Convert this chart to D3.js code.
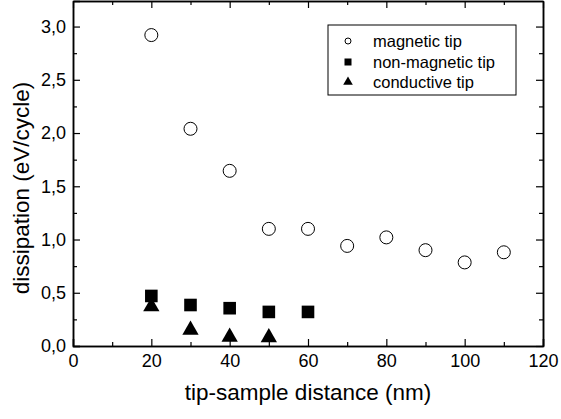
<!DOCTYPE html>
<html>
<head>
<meta charset="utf-8">
<script src="https://cdn.jsdelivr.net/npm/d3@7"></script>
<style>
  body { margin: 0; background: #fff; }
  svg text { font-family: "Liberation Sans", Arial, sans-serif; fill: #000; }
</style>
</head>
<body>
<div id="chart"></div>
<script>
// dados
const distances = [20, 30, 40, 50, 60, 70, 80, 90, 100, 110];
const magneticTip = [2.92, 2.04, 1.645, 1.10, 1.10, 0.94, 1.02, 0.90, 0.785, 0.88];
const nonMagneticDist = [20, 30, 40, 50, 60];
const nonMagneticTip = [0.47, 0.385, 0.355, 0.32, 0.32];
const conductiveDist = [20, 30, 40, 50];
const conductiveTip = [0.37, 0.15, 0.085, 0.08];
const xTicks = [0, 20, 40, 60, 80, 100, 120];
const yTicks = [0, 0.5, 1, 1.5, 2, 2.5, 3];
const legendLabels = ["magnetic tip", "non-magnetic tip", "conductive tip"];

const width = 561, height = 419;
const margin = { top: 1, right: 18, bottom: 73, left: 73 };

const svg = d3.select("#chart").append("svg")
    .attr("width", width)
    .attr("height", height);

const x = d3.scaleLinear().domain([0, 120]).range([margin.left, width - margin.right]);
const y = d3.scaleLinear().domain([0, 3.24]).range([height - margin.bottom, margin.top]);

const fmt = d => d3.format(".1f")(d).replace(".", ",");

// eixos com ticks para dentro (estilo Origin)
const xMinor = d3.range(10, 120, 20);
const yMinor = d3.range(0.25, 3.25, 0.5);

function drawAxis(axis, transform, labels) {
    const g = svg.append("g").attr("transform", transform).call(axis);
    g.select(".domain").attr("stroke-width", 1.5);
    g.selectAll(".tick line").attr("stroke-width", 1.2);
    if (!labels) g.selectAll(".tick text").remove();
    return g;
}

const axBottom = drawAxis(d3.axisBottom(x).tickValues(xTicks).tickSize(-7).tickPadding(8).tickFormat(d3.format("d")),
    `translate(0,${y(0)})`, true);
axBottom.selectAll(".tick text").attr("font-size", 18);
drawAxis(d3.axisBottom(x).tickValues(xMinor).tickSize(-4).tickSizeOuter(0), `translate(0,${y(0)})`, false);

drawAxis(d3.axisTop(x).tickValues(xTicks).tickSize(-7).tickSizeOuter(0), `translate(0,${y(3.24)})`, false);
drawAxis(d3.axisTop(x).tickValues(xMinor).tickSize(-4).tickSizeOuter(0), `translate(0,${y(3.24)})`, false);

const axLeft = drawAxis(d3.axisLeft(y).tickValues(yTicks).tickSize(-7).tickPadding(7).tickFormat(fmt),
    `translate(${x(0)},0)`, true);
axLeft.selectAll(".tick text").attr("font-size", 18);
drawAxis(d3.axisLeft(y).tickValues(yMinor).tickSize(-4).tickSizeOuter(0), `translate(${x(0)},0)`, false);

drawAxis(d3.axisRight(y).tickValues(yTicks).tickSize(-7).tickSizeOuter(0), `translate(${x(120)},0)`, false);
drawAxis(d3.axisRight(y).tickValues(yMinor).tickSize(-4).tickSizeOuter(0), `translate(${x(120)},0)`, false);

// títulos dos eixos
svg.append("text")
    .attr("x", 308)
    .attr("y", 400)
    .attr("text-anchor", "middle")
    .attr("font-size", 22.5)
    .text("tip-sample distance (nm)");

svg.append("text")
    .attr("transform", "translate(29,188) rotate(-90)")
    .attr("text-anchor", "middle")
    .attr("font-size", 22.5)
    .text("dissipation (eV/cycle)");

// símbolos
const triangle = d3.symbol().type(d3.symbolTriangle);

svg.append("g")
    .selectAll("circle")
    .data(distances.map((d, i) => ({ x: d, y: magneticTip[i] })))
    .join("circle")
    .attr("cx", d => x(d.x))
    .attr("cy", d => y(d.y))
    .attr("r", 6.5)
    .attr("fill", "none")
    .attr("stroke", "#000")
    .attr("stroke-width", 1);

svg.append("g")
    .selectAll("rect")
    .data(nonMagneticDist.map((d, i) => ({ x: d, y: nonMagneticTip[i] })))
    .join("rect")
    .attr("x", d => x(d.x) - 6.3)
    .attr("y", d => y(d.y) - 6.3)
    .attr("width", 12.6)
    .attr("height", 12.6)
    .attr("fill", "#000");

svg.append("g")
    .selectAll("path")
    .data(conductiveDist.map((d, i) => ({ x: d, y: conductiveTip[i] })))
    .join("path")
    .attr("transform", d => `translate(${x(d.x)},${y(d.y)})`)
    .attr("d", triangle.size(115))
    .attr("fill", "#000");

// legenda
const legend = svg.append("g").attr("transform", "translate(328,25)");
legend.append("rect")
    .attr("width", 188)
    .attr("height", 70)
    .attr("fill", "#fff")
    .attr("stroke", "#000")
    .attr("stroke-width", 1);

const rowY = [16, 37, 57];
legendLabels.forEach((lab, i) => {
    legend.append("text")
        .attr("x", 45)
        .attr("y", rowY[i] + 6)
        .attr("font-size", 16.5)
        .text(lab);
});
legend.append("circle").attr("cx", 20).attr("cy", rowY[0]).attr("r", 3)
    .attr("fill", "none").attr("stroke", "#000");
legend.append("rect").attr("x", 16.5).attr("y", rowY[1] - 3.5).attr("width", 7).attr("height", 7).attr("fill", "#000");
legend.append("path").attr("transform", `translate(20,${rowY[2]})`)
    .attr("d", d3.symbol().type(d3.symbolTriangle).size(40)).attr("fill", "#000");
</script>
</body>
</html>
